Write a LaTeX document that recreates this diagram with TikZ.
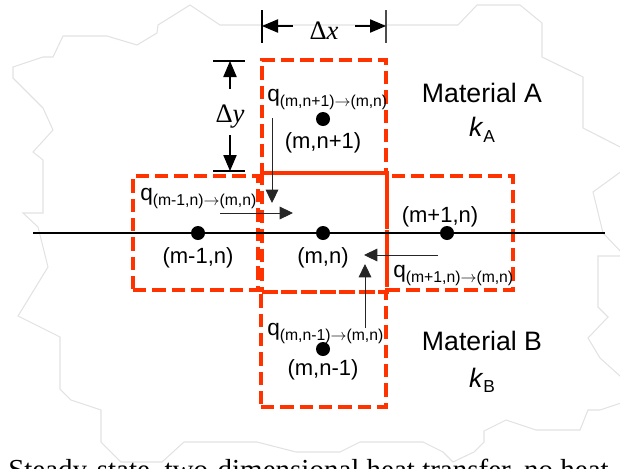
\documentclass[tikz,border=0pt]{standalone}
\usepackage{fontspec}
\setmainfont{Liberation Sans}
\newfontfamily\serifA{Liberation Serif}
\usetikzlibrary{arrows.meta}
\definecolor{boxred}{HTML}{FF3300}
\definecolor{outlinegray}{HTML}{E2E2E2}
\newcommand{\qlab}[1]{q\raisebox{-3.8pt}{\fontsize{11.8}{13}\selectfont #1}}
\newcommand{\qto}{$\rightarrow$}
\begin{document}
\begin{tikzpicture}[x=0.75pt,y=-0.75pt,
  cell/.style={draw=boxred, line width=2.8pt, dash pattern=on 10pt off 4.5pt, inner sep=0pt},
  dot/.style={circle, fill=black, inner sep=0pt, minimum size=10.5pt},
  lbl/.style={font=\fontsize{16.5}{19}\selectfont, inner sep=0pt},
  qtxt/.style={font=\fontsize{17}{19}\selectfont, inner sep=0pt, anchor=base west},
  mat/.style={font=\fontsize{20}{23}\selectfont, inner sep=0pt},
  dimtxt/.style={font=\serifA\fontsize{20}{23}\selectfont, inner sep=0pt},
  qarrow/.style={-{Triangle[length=10pt,width=9.5pt]}, line width=0.7pt, draw=black!85},
  dimarrow/.style={-{Triangle[length=12pt,width=10pt]}, line width=0.8pt},
  tick/.style={line width=0.8pt}]
\path[use as bounding box] (0,0) rectangle (620,468);
\clip (0,0) rectangle (620,468);

% faint background outline
\draw[outlinegray, line width=0.8pt]
  (43,57) -- (53,57) -- (63,36) -- (107,36) -- (137,45) -- (157,33) -- (158,25) -- (190,5)
  -- (220,25) -- (458,25) -- (477,5) -- (520,5) -- (542,23) -- (542,57) -- (583,77)
  -- (583,128) -- (630,152) -- (630,165) -- (593,192) -- (603,233) -- (625,256)
  -- (598,256) -- (598,307) -- (608,317) -- (588,338) -- (600,358) -- (630,385)
  -- (630,400) -- (600,410) -- (588,410) -- (580,430) -- (536,430) -- (506,420)
  -- (484,431) -- (484,442) -- (474,452) -- (453,462) -- (443,452) -- (423,442)
  -- (360,442) -- (340,452) -- (296,452) -- (257,442) -- (184,442) -- (162,462)
  -- (121,462) -- (101,442) -- (101,410) -- (71,400) -- (60,389) -- (60,337)
  -- (18,316) -- (48,267) -- (38,227) -- (23,213) -- (43,213) -- (43,160) -- (33,152)
  -- (53,130) -- (43,108) -- (13,78) -- (13,67) -- cycle;

% dashed control volumes
\node[cell, minimum width=93pt, minimum height=84.75pt] (top) at (324,116.5) {};
\node[cell, minimum width=93.75pt, minimum height=89.25pt] (mid) at (324.5,232.5) {};
\node[cell, minimum width=93.75pt, minimum height=85.5pt] (left) at (195.5,233) {};
\node[cell, minimum width=94.5pt, minimum height=85.5pt] (right) at (450,233) {};
\node[cell, minimum width=93.75pt, minimum height=86.25pt] (bot) at (323.5,349.5) {};

% axis
\coordinate (axL) at (33,233);
\coordinate (axR) at (605,233);
\draw[line width=1.7pt] (axL) -- (axR);

% nodes (dots)
\node[dot] (pL) at (198,233) {};
\node[dot] (pC) at (323,233) {};
\node[dot] (pR) at (447,233) {};
\node[dot] (pT) at (323,119) {};
\node[dot] (pB) at (323,349) {};

% point labels
\node[lbl] (lT) at (323,143) {(m,n+1)};
\node[lbl] (lL) at (198,258) {(m-1,n)};
\node[lbl] (lC) at (323,258) {(m,n)};
\node[lbl] (lR) at (440,217) {(m+1,n)};
\node[lbl] (lB) at (323,370) {(m,n-1)};

% heat flow labels
\node[qtxt] (qT) at (267,101) {\qlab{(m,n+1)\qto(m,n)}};
\node[qtxt] (qL) at (140,200) {\qlab{(m-1,n)\qto(m,n)}};
\node[qtxt] (qR) at (393,277) {\qlab{(m+1,n)\qto(m,n)}};
\node[qtxt] (qB) at (267,335) {\qlab{(m,n-1)\qto(m,n)}};

% heat flow arrows
\coordinate (aT1) at (272,118); \coordinate (aT2) at (272,203);
\coordinate (aL1) at (220,213); \coordinate (aL2) at (293,213);
\coordinate (aR1) at (438,255); \coordinate (aR2) at (364,255);
\coordinate (aB1) at (365,328); \coordinate (aB2) at (365,264);
\draw[qarrow] (aT1) -- (aT2);
\draw[qarrow] (aL1) -- (aL2);
\draw[qarrow] (aR1) -- (aR2);
\draw[qarrow] (aB1) -- (aB2);

% materials
\node[mat] (mA) at (482,93) {Material A};
\node[mat] (kA) at (482,130) {\textit{k}\raisebox{-4pt}{\fontsize{13}{15}\selectfont A}};
\node[mat] (mB) at (482,341) {Material B};
\node[mat] (kB) at (482,380) {\textit{k}\raisebox{-4pt}{\fontsize{13}{15}\selectfont B}};

% dimension dx
\coordinate (tx1a) at (262,10); \coordinate (tx1b) at (262,43);
\coordinate (tx2a) at (386,10); \coordinate (tx2b) at (386,43);
\draw[tick] (tx1a) -- (tx1b);
\draw[tick, black!70] (tx2a) -- (tx2b);
\node[dimtxt] (dx) at (324,31) {Δ\textit{x}};
\coordinate (dxl) at (293,26); \coordinate (dxlt) at (262,26);
\coordinate (dxr) at (355,26); \coordinate (dxrt) at (386,26);
\draw[dimarrow] (dxl) -- (dxlt);
\draw[dimarrow] (dxr) -- (dxrt);

% dimension dy
\coordinate (ty1a) at (213,61); \coordinate (ty1b) at (245,61);
\coordinate (ty2a) at (213,171); \coordinate (ty2b) at (245,171);
\draw[tick] (ty1a) -- (ty1b);
\draw[tick] (ty2a) -- (ty2b);
\node[dimtxt] (dy) at (230,117) {Δ\textit{y}};
\coordinate (dyu) at (230,89); \coordinate (dyut) at (230,61);
\coordinate (dyd) at (230,135); \coordinate (dydt) at (230,171);
\draw[dimarrow] (dyu) -- (dyut);
\draw[dimarrow] (dyd) -- (dydt);

% caption (cut off by the frame, as in the reference)
\node[font=\serifA\fontsize{21.75}{24}\selectfont, anchor=base west, inner sep=0pt] (cap) at (8,479)
  {Steady-state, two-dimensional heat transfer, no heat};
\end{tikzpicture}
\end{document}
